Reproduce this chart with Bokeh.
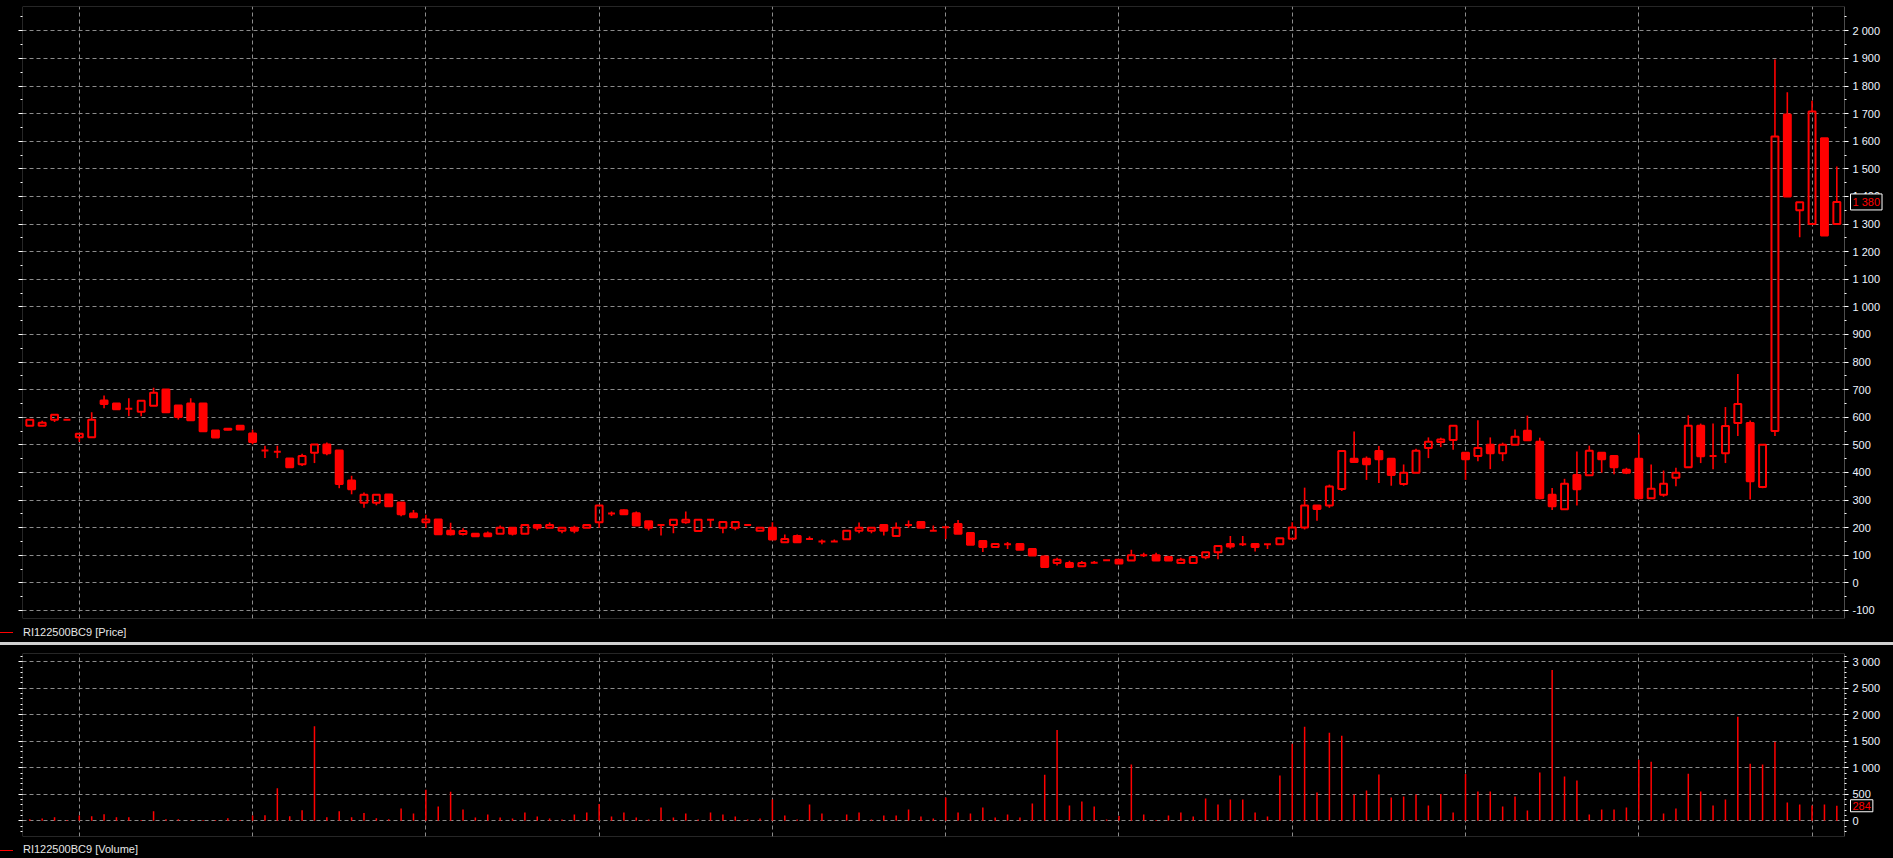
import numpy as np
from bokeh.plotting import figure
from bokeh.models import (Range1d, SingleIntervalTicker, FixedTicker, LinearAxis,
                          CustomJSTickFormatter, Label, ColumnDataSource, Div, BoxAnnotation)
from bokeh.layouts import column
from bokeh.embed import file_html
from bokeh.resources import INLINE

# ---------------- data ----------------
series_name = "RI122500BC9"

opens = [569, 569, 591, 591, 528, 528, 661, 650, 631, 620, 642, 701, 643, 650, 650, 552, 558, 569, 541, 480,
         475, 451, 430, 471, 501, 480, 371, 290, 290, 320, 291, 251, 220, 230, 189, 177, 178, 179, 178, 200,
         178, 210, 200, 189, 200, 200, 220, 251, 263, 252, 223, 210, 210, 220, 188, 229, 200, 200, 210, 189,
         200, 147, 170, 159, 150, 150, 158, 189, 189, 210, 170, 210, 221, 189, 202, 213, 181, 152, 130, 140,
         141, 123, 96, 72, 72, 60, 73, 82, 84, 81, 100, 100, 94, 72, 72, 93, 111, 141, 140, 141,
         140, 140, 160, 201, 280, 280, 340, 450, 450, 478, 450, 358, 399, 489, 510, 518, 471, 460, 500, 470,
         500, 551, 511, 319, 267, 391, 390, 471, 460, 410, 450, 307, 319, 381, 419, 569, 460, 470, 579, 579,
         347, 550, 1697, 1350, 1300, 1611, 1300]
highs = [591, 587, 609, 591, 540, 618, 679, 650, 669, 660, 707, 701, 643, 669, 650, 552, 558, 569, 555, 497,
         497, 451, 468, 501, 509, 480, 388, 327, 319, 320, 291, 264, 247, 230, 218, 198, 178, 186, 208, 200,
         210, 210, 219, 200, 207, 210, 280, 259, 266, 259, 223, 210, 229, 259, 229, 229, 221, 221, 210, 200,
         220, 175, 175, 168, 157, 157, 189, 219, 200, 210, 219, 226, 221, 208, 207, 228, 181, 152, 141, 148,
         141, 123, 100, 91, 80, 79, 79, 82, 84, 120, 109, 109, 98, 91, 94, 111, 136, 170, 170, 141,
         140, 162, 220, 345, 280, 356, 478, 548, 458, 496, 450, 429, 486, 527, 526, 569, 471, 589, 527, 508,
         556, 606, 526, 344, 377, 476, 497, 471, 460, 417, 538, 429, 407, 417, 607, 577, 577, 637, 757, 588,
         500, 1896, 1777, 1379, 1747, 1611, 1508]
lows = [569, 569, 583, 591, 510, 528, 633, 629, 604, 604, 642, 618, 592, 589, 549, 527, 553, 556, 502, 452,
        452, 419, 423, 434, 462, 343, 321, 272, 281, 278, 241, 238, 199, 176, 172, 172, 169, 169, 178, 172,
        178, 191, 200, 180, 180, 200, 200, 242, 249, 208, 190, 172, 180, 214, 188, 202, 180, 191, 210, 189,
        157, 147, 147, 159, 140, 150, 158, 180, 180, 172, 170, 200, 200, 189, 159, 178, 138, 112, 130, 123,
        120, 99, 58, 63, 58, 60, 70, 82, 70, 81, 94, 81, 81, 72, 72, 86, 86, 124, 134, 114,
        123, 140, 160, 193, 225, 272, 333, 438, 373, 362, 352, 352, 399, 452, 492, 482, 373, 441, 412, 441,
        500, 514, 303, 264, 267, 280, 390, 399, 394, 394, 307, 307, 312, 350, 419, 434, 412, 434, 532, 302,
        343, 532, 1400, 1252, 1300, 1258, 1300]
closes = [591, 580, 609, 591, 540, 591, 648, 629, 631, 660, 689, 618, 601, 589, 549, 527, 555, 556, 510, 480,
          475, 419, 460, 501, 470, 358, 339, 319, 319, 278, 249, 238, 230, 176, 176, 188, 169, 169, 200, 178,
          210, 200, 210, 200, 189, 210, 280, 251, 249, 208, 200, 210, 229, 229, 229, 229, 221, 221, 210, 200,
          157, 159, 147, 159, 150, 150, 189, 200, 200, 189, 200, 210, 200, 189, 202, 178, 138, 130, 141, 140,
          120, 99, 58, 84, 58, 72, 73, 82, 70, 100, 100, 81, 81, 84, 94, 111, 134, 132, 140, 130,
          140, 162, 201, 280, 268, 349, 478, 438, 430, 448, 391, 399, 479, 511, 519, 569, 448, 489, 470, 500,
          529, 517, 307, 278, 359, 339, 479, 448, 419, 399, 307, 341, 359, 399, 569, 459, 460, 568, 648, 368,
          500, 1617, 1400, 1379, 1708, 1258, 1380]
volumes = [31, 44, 69, 13, 100, 88, 126, 69, 69, 13, 182, 31, 31, 13, 13, 13, 50, 13, 100, 107,
           616, 88, 201, 1786, 69, 182, 69, 145, 50, 31, 231, 138, 588, 269, 550, 213, 63, 119, 63, 44,
           156, 81, 44, 25, 119, 156, 319, 81, 156, 63, 25, 250, 63, 138, 25, 156, 119, 81, 25, 44,
           400, 100, 25, 306, 138, 6, 119, 156, 25, 100, 100, 213, 81, 44, 438, 156, 138, 250, 63, 119,
           63, 325, 869, 1713, 288, 363, 269, 25, 90, 1060, 119, 13, 100, 157, 82, 420, 307, 401, 401, 157,
           82, 853, 1455, 1774, 533, 1662, 1605, 495, 571, 872, 439, 458, 495, 288, 508, 157, 884, 552, 552, 270,
           458, 194, 909, 2847, 834, 759, 119, 213, 213, 251, 1154, 1116, 138, 232, 890, 552, 288, 401, 1963, 1078,
           1060, 1492, 345, 307, 288, 307, 284]
grid_bars = [4, 18, 32, 46, 60, 74, 88, 102, 116, 130, 144]

# ---------------- styling ----------------
RED = "#ff0000"
GRID = "#8c8c8c"
TXT = "#eef4ff"
FONT = "Liberation Sans"
W = 1893

n = len(opens)
idx = np.arange(n)
o = np.array(opens, float); h = np.array(highs, float)
l = np.array(lows, float); c = np.array(closes, float)
top = np.maximum(o, c); bot = np.minimum(o, c)
up = c >= o

fmt = CustomJSTickFormatter(code=r"""
const s = Math.round(tick).toString();
return s.replace(/\B(?=(\d{3})+(?!\d))/g, " ");
""")
blank = CustomJSTickFormatter(code="return '';")

X0 = -0.59                 # left edge of the drawn frame (data units)
X1 = n - 1 + 0.62          # right edge of the drawn frame (data units)
PX = (1844 - 22) / (X1 - X0)
xr = Range1d(X0, X1 + (W - 1844) / PX)


def style_fig(fig, ticker):
    fig.xaxis.visible = False
    fig.xgrid.ticker = FixedTicker(ticks=grid_bars)
    for g in (fig.xgrid[0], fig.ygrid[0]):
        g.grid_line_color = GRID
        g.grid_line_dash = "4 3"
        g.grid_line_width = 1
    fig.outline_line_color = None
    # hide grid beyond the frame's right edge (axis area)
    fig.add_layout(BoxAnnotation(left=X1, fill_color="black", fill_alpha=1,
                                 line_color=None, level="glyph"))
    # visible frame border
    fig.add_layout(BoxAnnotation(left=X0, right=X1, fill_alpha=0, line_color="white",
                                 line_width=1, level="annotation"))
    ax = fig.yaxis[0]
    ax.ticker = ticker
    ax.formatter = fmt
    ax.fixed_location = X1
    ax.axis_line_color = None
    ax.major_tick_line_color = "white"
    ax.minor_tick_line_color = "white"
    ax.major_tick_in = 0
    ax.major_tick_out = 4
    ax.minor_tick_in = 0
    ax.minor_tick_out = 2
    ax.major_label_standoff = 4
    ax.major_label_text_color = TXT
    ax.major_label_text_font = FONT
    ax.major_label_text_font_size = "11px"
    lax = LinearAxis(ticker=ticker, formatter=blank, axis_line_color=None,
                     major_tick_line_color="white", minor_tick_line_color="white",
                     major_tick_in=0, major_tick_out=4, minor_tick_in=0, minor_tick_out=2,
                     major_label_standoff=0)
    fig.add_layout(lax, "left")


def legend_row(label, height, pad_top):
    html = (f'<div style="display:flex;align-items:center;height:{height - pad_top}px;'
            f'margin-top:{pad_top}px;white-space:nowrap;">'
            '<span style="display:inline-block;width:13px;height:1px;background:#ff0000;'
            'margin-right:10px;"></span>'
            f'<span>{label}</span></div>')
    return Div(text=html, width=W, height=height, margin=0,
               styles={"background-color": "black", "color": "#e6e6e6",
                       "font-family": FONT, "font-size": "11px", "overflow": "hidden"})


def value_box(fig, yval, text):
    fig.add_layout(Label(x=X1, y=yval, x_offset=6, text=text,
                         text_color=RED, text_font=FONT, text_font_size="11px",
                         text_baseline="middle", text_align="left",
                         border_line_color="white", border_line_width=1,
                         background_fill_color="black", background_fill_alpha=1,
                         padding=2))


# ---------------- price panel ----------------
p = figure(width=W, height=619, x_range=xr, y_range=Range1d(-129, 2088),
           output_backend="svg", toolbar_location=None, y_axis_location="right",
           min_border_left=22, min_border_right=0, min_border_top=6, min_border_bottom=1,
           background_fill_color="black", border_fill_color="black", margin=0)
style_fig(p, SingleIntervalTicker(interval=100, num_minor_ticks=2))

wsrc = ColumnDataSource(dict(x=np.concatenate([idx, idx]),
                             y0=np.concatenate([h, bot]),
                             y1=np.concatenate([top, l])))
p.segment(x0="x", y0="y0", x1="x", y1="y1", source=wsrc, line_color=RED, line_width=1.6)

usrc = ColumnDataSource(dict(x=idx[up], top=top[up], bottom=bot[up]))
dsrc = ColumnDataSource(dict(x=idx[~up], top=top[~up], bottom=bot[~up]))
p.vbar(x="x", width=0.56, top="top", bottom="bottom", source=usrc,
       fill_color=None, line_color=RED, line_width=2)
p.vbar(x="x", width=0.56, top="top", bottom="bottom", source=dsrc,
       fill_color=RED, line_color=RED, line_width=2)

last_c = closes[-1]
value_box(p, last_c, f"{last_c:,}".replace(",", " "))

# ---------------- separator ----------------
sep = Div(text="", width=W, height=3, margin=0, styles={"background-color": "#d0d0d0"})

# ---------------- volume panel ----------------
p2 = figure(width=W, height=192, x_range=xr, y_range=Range1d(-296, 3156),
            output_backend="svg", toolbar_location=None, y_axis_location="right",
            min_border_left=22, min_border_right=0, min_border_top=8, min_border_bottom=1,
            background_fill_color="black", border_fill_color="black", margin=0)
style_fig(p2, SingleIntervalTicker(interval=500, num_minor_ticks=5))
vsrc = ColumnDataSource(dict(x=idx, v=np.array(volumes, float), z=np.zeros(n)))
p2.segment(x0="x", y0="z", x1="x", y1="v", source=vsrc, line_color=RED, line_width=1.5)
last_v = volumes[-1]
value_box(p2, last_v, str(last_v))

layout = column(p, legend_row(f"{series_name} [Price]", 23, 4), sep, p2,
                legend_row(f"{series_name} [Volume]", 21, 5),
                spacing=0, margin=0, styles={"background-color": "black"})
open("out.html", "w").write(file_html(layout, INLINE))
